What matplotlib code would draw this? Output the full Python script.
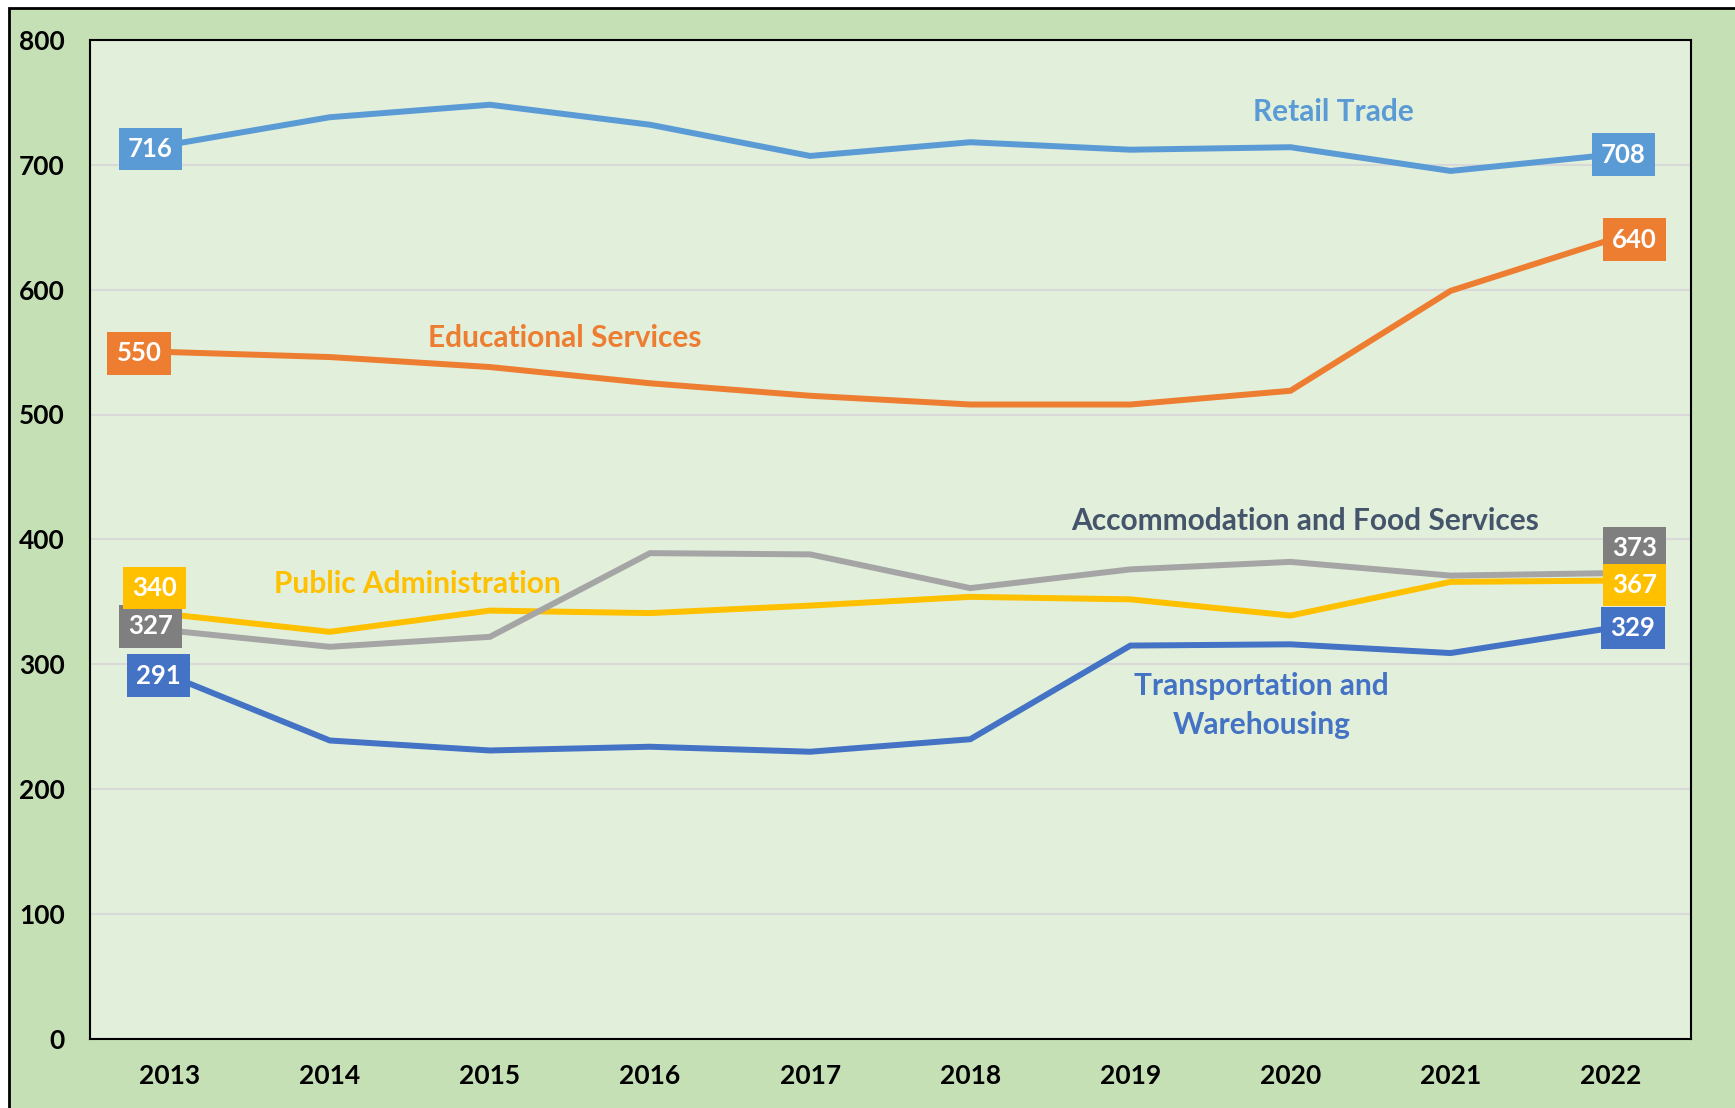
import matplotlib
matplotlib.use("Agg")
import matplotlib.pyplot as plt
from matplotlib.patches import Rectangle

plt.rcParams['font.family'] = ['Lato', 'DejaVu Sans']
plt.rcParams['font.weight'] = 'bold'

years = ["2013", "2014", "2015", "2016", "2017", "2018", "2019", "2020", "2021", "2022"]
retail = [716, 738, 748, 732, 707, 718, 712, 714, 695, 708]
educational = [550, 546, 538, 525, 515, 508, 508, 519, 599, 640]
accommodation = [327, 314, 322, 389, 388, 361, 376, 382, 371, 373]
public_admin = [340, 326, 343, 341, 347, 354, 352, 339, 366, 367]
transport = [291, 239, 231, 234, 230, 240, 315, 316, 309, 329]

series_names = ["Retail Trade", "Educational Services", "Public Administration",
                "Accommodation and Food Services", "Transportation and\nWarehousing"]
series_values = [retail, educational, public_admin, accommodation, transport]
line_colors = ["#5B9BD5", "#ED7D31", "#FFC000", "#A5A5A5", "#4472C4"]
box_colors = ["#5B9BD5", "#ED7D31", "#FFC000", "#7F7F7F", "#4472C4"]
name_colors = ["#5B9BD5", "#ED7D31", "#FFC000", "#44546A", "#4472C4"]
# name label positions (x index, y value)
name_pos = [(7.27, 742), (2.47, 561), (1.55, 364), (7.09, 415), (6.82, 267)]
# value label offsets in points: (first dx, first dy, last dx, last dy)
lab_off = [(-14, -3, 9, 0), (-22, -1, 17, 0), (-11, 19, 17, -3),
           (-14, 3, 17, 18), (-8, 0, 16, 0)]
lab_z = [10, 10, 12, 11, 10]

fig = plt.figure(figsize=(17.35, 11.08), dpi=100, facecolor="white")
bg = Rectangle((9/1735, -0.05), 1.1, 1 - 8/1108 + 0.05,
               transform=fig.transFigure, facecolor="#C5E0B4",
               edgecolor="black", linewidth=2, zorder=-10)
fig.add_artist(bg)

ax = fig.add_axes([89.6/1735, 1 - 1039/1108, (1690.8-89.6)/1735, (1039-39.8)/1108])
ax.set_zorder(5)
ax.set_facecolor("#E2EFDA")
x = list(range(len(years)))

for i in range(len(series_values)):
    vals = series_values[i]
    ax.plot(x, vals, color=line_colors[i], lw=4.3, solid_capstyle='butt',
            solid_joinstyle='miter', zorder=3 + i * 0.1)
    dx0, dy0, dx1, dy1 = lab_off[i]
    for xi, v, dx, dy in [(x[0], vals[0], dx0, dy0), (x[-1], vals[-1], dx1, dy1)]:
        ax.annotate(str(v), xy=(xi, v), xytext=(dx, dy), textcoords="offset points",
                    ha="center", va="center", color="white", fontsize=18.5,
                    fontweight="bold", zorder=lab_z[i],
                    bbox=dict(boxstyle="square,pad=0.36", facecolor=box_colors[i],
                              edgecolor="none"))
    ax.text(name_pos[i][0], name_pos[i][1], series_names[i], color=name_colors[i],
            fontsize=21.5, fontweight="bold", ha="center", va="center",
            linespacing=1.45, zorder=9)

ax.set_xlim(-0.5, len(years) - 0.5)
ax.set_ylim(0, 800)
ax.set_yticks(range(0, 801, 100))
ax.set_xticks(x)
ax.set_xticklabels(years)
ax.tick_params(axis='both', length=0, labelsize=19, colors="black")
ax.tick_params(axis='y', pad=18)
ax.tick_params(axis='x', pad=18)
for lab in ax.get_xticklabels() + ax.get_yticklabels():
    lab.set_fontweight("bold")
ax.grid(axis='y', color="#D9D9D9", lw=1.5, zorder=1)
ax.set_axisbelow(True)
for s in ax.spines.values():
    s.set_color("black")
    s.set_linewidth(1.5)

fig.savefig("out.png", dpi=100, facecolor=fig.get_facecolor())
